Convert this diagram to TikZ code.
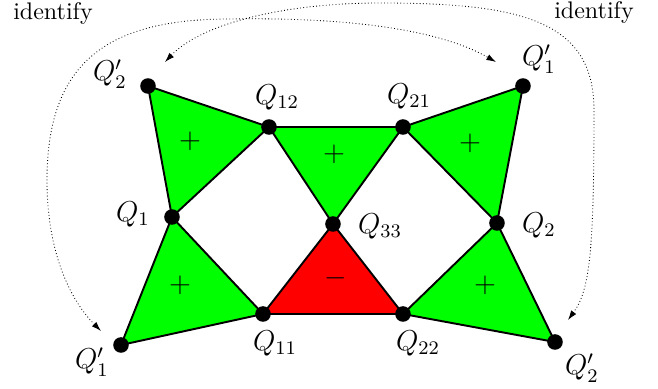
\documentclass[tikz,border=0pt]{standalone}
\usetikzlibrary{arrows.meta}
\begin{document}
\begin{tikzpicture}[x=0.41667pt,y=-0.41667pt,
  tri/.style={draw=black,line width=0.8pt,line join=round},
  postri/.style={tri,fill=green},
  negtri/.style={tri,fill=red},
  vtx/.style={circle,fill=black,inner sep=0pt,minimum size=6.5pt},
  lbl/.style={font=\large,inner sep=0pt},
  sgn/.style={font=\large,inner sep=0pt},
  ident/.style={densely dotted,line width=0.35pt,{Latex[length=4pt,width=2.6pt]}-{Latex[length=4pt,width=2.6pt]}}]
\useasboundingbox (0,0) rectangle (658,389);
% vertices
\coordinate (P2a) at (148,86);
\coordinate (Q12) at (269,127);
\coordinate (Q21) at (403,127);
\coordinate (P1a) at (523,86);
\coordinate (Q1)  at (172,217);
\coordinate (Q33) at (333,224);
\coordinate (Q2)  at (497,223);
\coordinate (Q11) at (263,314);
\coordinate (Q22) at (403,314);
\coordinate (P1b) at (121,345);
\coordinate (P2b) at (555,342);
% triangles
\filldraw[postri] (P2a) -- (Q12) -- (Q1) -- cycle;
\filldraw[postri] (Q12) -- (Q21) -- (Q33) -- cycle;
\filldraw[postri] (Q21) -- (P1a) -- (Q2) -- cycle;
\filldraw[postri] (Q1) -- (Q11) -- (P1b) -- cycle;
\filldraw[negtri] (Q33) -- (Q11) -- (Q22) -- cycle;
\filldraw[postri] (Q2) -- (Q22) -- (P2b) -- cycle;
% signs
\node[sgn] (s1) at (190,141) {$+$};
\node[sgn] (s2) at (334,154) {$+$};
\node[sgn] (s3) at (470,143) {$+$};
\node[sgn] (s4) at (180,285) {$+$};
\node[sgn] (s5) at (336,278) {$-$};
\node[sgn] (s6) at (485,285) {$+$};
% dots
\foreach \p in {P2a,Q12,Q21,P1a,Q1,Q33,Q2,Q11,Q22,P1b,P2b}
  \node[vtx] (d\p) at (\p) {};
% labels
\node[lbl] (lP2a) at (110,74) {$Q_2'$};
\node[lbl] (lQ12) at (277,97) {$Q_{12}$};
\node[lbl] (lQ21) at (409,96) {$Q_{21}$};
\node[lbl] (lP1a) at (539,59) {$Q_1'$};
\node[lbl] (lQ1)  at (133,214) {$Q_1$};
\node[lbl] (lQ33) at (380,226) {$Q_{33}$};
\node[lbl] (lQ2)  at (539,225) {$Q_2$};
\node[lbl] (lQ11) at (275,343) {$Q_{11}$};
\node[lbl] (lQ22) at (418,343) {$Q_{22}$};
\node[lbl] (lP1b) at (92,362) {$Q_1'$};
\node[lbl] (lP2b) at (582,368) {$Q_2'$};
\node (idl) at (53,14) {identify};
\node (idr) at (594,13) {identify};
% identification curves
\coordinate (a1) at (101,331);
\coordinate (a2) at (496,62);
\coordinate (b1) at (165,62);
\coordinate (b2) at (568,320);
\draw[ident] (a1) .. controls (75,305) and (47,260) .. (47,180)
  .. controls (47,60) and (110,19) .. (230,19)
  .. controls (350,17) and (440,30) .. (a2);
\draw[ident] (b1) .. controls (200,25) and (280,3) .. (380,3)
  .. controls (520,3) and (594,20) .. (594,110)
  .. controls (594,250) and (590,290) .. (b2);
\end{tikzpicture}
\end{document}
